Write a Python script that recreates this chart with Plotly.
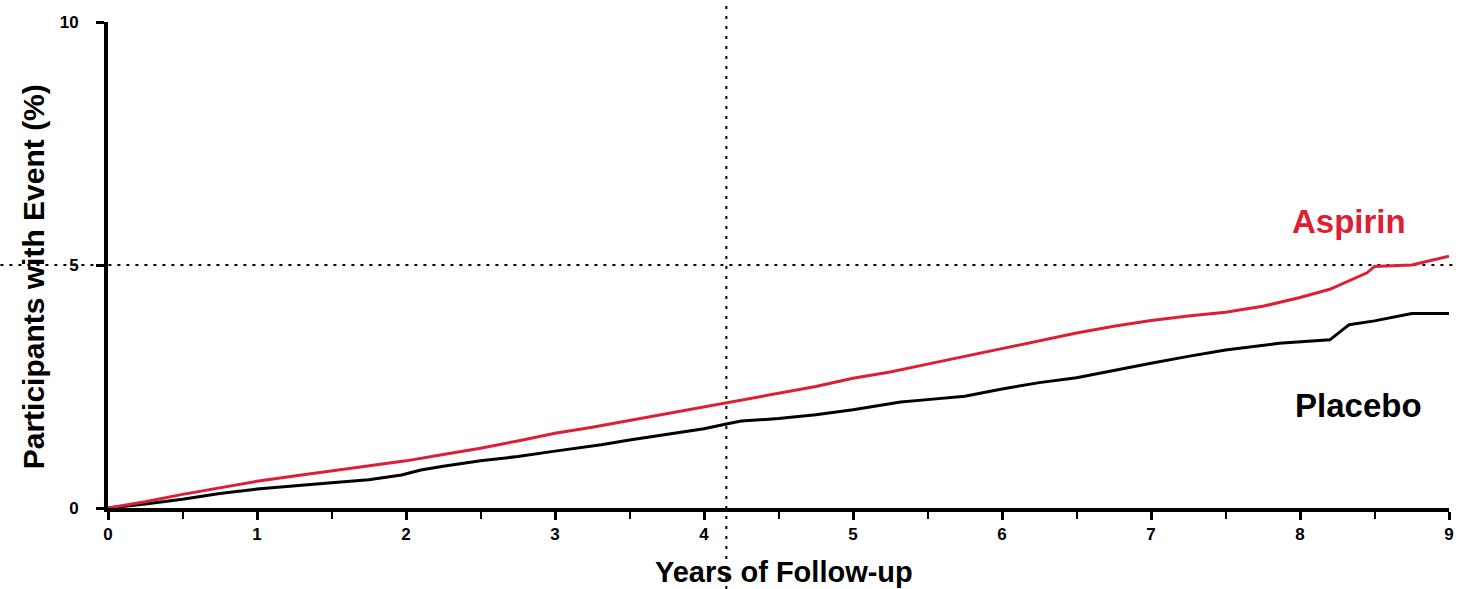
import plotly.graph_objects as go

# Years of follow-up and cumulative % with event
aspirin_t = [0, 0.25, 0.5, 0.75, 1.0, 1.25, 1.5, 1.75, 2.0, 2.25, 2.5, 2.75, 3.0, 3.25, 3.5, 3.75,
             4.0, 4.25, 4.5, 4.75, 5.0, 5.25, 5.5, 5.75, 6.0, 6.25, 6.5, 6.75, 7.0, 7.25, 7.5, 7.75,
             8.0, 8.2, 8.35, 8.45, 8.5, 8.75, 9.0]
aspirin_y = [0, 0.13, 0.28, 0.42, 0.55, 0.66, 0.76, 0.86, 0.97, 1.10, 1.23, 1.38, 1.54, 1.66, 1.80, 1.95,
             2.08, 2.22, 2.36, 2.50, 2.67, 2.80, 2.96, 3.12, 3.29, 3.45, 3.60, 3.74, 3.86, 3.95, 4.03, 4.15,
             4.33, 4.50, 4.70, 4.84, 4.97, 5.00, 5.18]

placebo_t = [0, 0.25, 0.5, 0.75, 1.0, 1.25, 1.5, 1.75, 1.97, 2.1, 2.25, 2.5, 2.75, 3.0, 3.31, 3.5, 3.75,
             4.0, 4.15, 4.25, 4.5, 4.75, 5.0, 5.32, 5.5, 5.75, 6.0, 6.25, 6.5, 6.66, 7.0, 7.25, 7.5,
             7.86, 8.2, 8.3, 8.33, 8.5, 8.75, 9.0]
placebo_y = [0, 0.08, 0.18, 0.30, 0.39, 0.46, 0.52, 0.58, 0.68, 0.78, 0.86, 0.97, 1.06, 1.17, 1.30, 1.40, 1.52,
             1.63, 1.73, 1.79, 1.84, 1.92, 2.02, 2.18, 2.23, 2.30, 2.45, 2.58, 2.68, 2.78, 2.98, 3.12, 3.25,
             3.39, 3.46, 3.70, 3.77, 3.85, 4.00, 4.00]

x_ticks = [0, 1, 2, 3, 4, 5, 6, 7, 8, 9]
y_ticks = [0, 5, 10]
x_range = [0, 9]
y_range = [0, 10]
ref_year = 4.15
ref_pct = 5

RED = "#dc1f35"
FONT = "Liberation Sans, Arial, sans-serif"

W, H = 1461, 589
L, R, T, B = 108, 7, 22, 81
pw, ph = W - L - R, H - T - B

fig = go.Figure()
fig.add_trace(go.Scatter(x=placebo_t, y=placebo_y, mode="lines", name="Placebo",
                         line=dict(color="black", width=3)))
fig.add_trace(go.Scatter(x=aspirin_t, y=aspirin_y, mode="lines", name="Aspirin",
                         line=dict(color=RED, width=3)))

# dotted reference lines spanning the whole figure
px = (ref_year - x_range[0]) / (x_range[1] - x_range[0])
py = (ref_pct - y_range[0]) / (y_range[1] - y_range[0])
fig.add_shape(type="line", xref="paper", yref="paper", x0=px, x1=px,
              y0=-B / ph, y1=1 + T / ph, line=dict(color="black", width=2, dash="3px,7px"), layer="below")
fig.add_shape(type="line", xref="paper", yref="paper", x0=-L / pw, x1=1 + R / pw,
              y0=py, y1=py, line=dict(color="black", width=2, dash="3px,6px"), layer="below")

fig.add_annotation(x=8.33, y=5.9, text="Aspirin", showarrow=False,
                   font=dict(family=FONT, size=33, color=RED, weight="bold"))
fig.add_annotation(x=8.39, y=2.1, text="Placebo", showarrow=False,
                   font=dict(family=FONT, size=33, color="black", weight="bold"))

fig.add_annotation(xref="paper", yref="paper", x=(787 - L) / pw, y=(508 - 554) / ph,
                   xanchor="center", yanchor="top", text="Years of Follow-up", showarrow=False,
                   font=dict(family=FONT, size=29, color="black", weight="bold"))
fig.add_annotation(xref="paper", yref="paper", x=(33 - L) / pw, y=(508 - 277) / ph,
                   xanchor="center", yanchor="middle", textangle=-90,
                   text="Participants with Event (%)", showarrow=False,
                   font=dict(family=FONT, size=30, color="black", weight="bold"))

fig.update_layout(
    width=W, height=H,
    margin=dict(l=L, r=R, t=T, b=B),
    plot_bgcolor="white", paper_bgcolor="white",
    showlegend=False,
    font=dict(family=FONT, color="black"),
    xaxis=dict(range=x_range, tickvals=x_ticks, showgrid=False, zeroline=False,
               showline=True, linecolor="black", linewidth=4,
               ticks="outside", ticklen=8, tickwidth=3, tickcolor="black",
               tickfont=dict(size=17, weight="bold", family=FONT),
               minor=dict(dtick=0.5, ticks="outside", ticklen=7, tickwidth=2, tickcolor="black")),
    yaxis=dict(range=y_range, tickvals=y_ticks, showgrid=False, zeroline=False,
               showline=True, linecolor="black", linewidth=4,
               ticks="outside", ticklen=8, tickwidth=3, tickcolor="black",
               ticklabelstandoff=14,
               tickfont=dict(size=17, weight="bold", family=FONT)),
)

fig.write_html("out.html")
